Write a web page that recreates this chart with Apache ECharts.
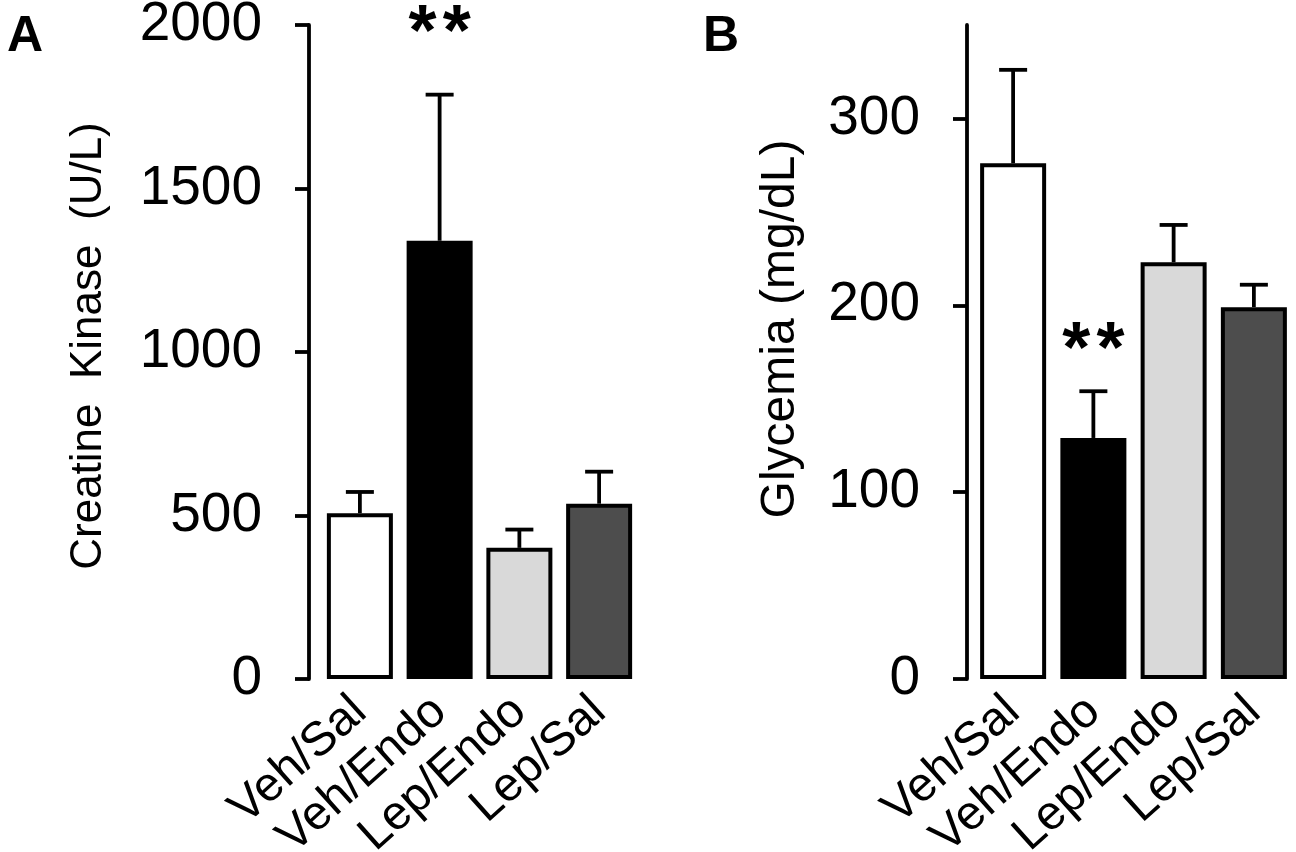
<!DOCTYPE html>
<html><head><meta charset="utf-8">
<script src="https://cdn.jsdelivr.net/npm/echarts@6/dist/echarts.min.js"></script>
<style>html,body{margin:0;padding:0;background:#fff}#c{width:1296px;height:852px}</style>
</head><body><div id="c"></div>
<script>
const categories = ['Veh/Sal', 'Veh/Endo', 'Lep/Endo', 'Lep/Sal'];
const ckMean = [507, 1340, 401, 536];
const ckErrTop = [572, 1787, 457, 634];
const glyMean = [276, 129, 223, 199];
const glyErrTop = [326, 154, 243, 211];
const barColors = ['#ffffff', '#000000', '#d9d9d9', '#4d4d4d'];
const ckTicks = [0, 500, 1000, 1500, 2000];
const glyTicks = [0, 100, 200, 300];
const ckSig = [[1, 1969]];
const glySig = [[1, 175]];
const FONT = 'Liberation Sans, Arial, sans-serif';

const chart = echarts.init(document.getElementById('c'), null, {renderer: 'canvas'});

function barData(vals) {
  return vals.map((v, i) => ({value: v, itemStyle: {color: barColors[i]}}));
}
function errData(mean, top) {
  return mean.map((m, i) => [i, m, top[i]]);
}
function errRender(params, api) {
  const x = api.value(0);
  const p0 = api.coord([x, api.value(1)]);
  const p1 = api.coord([x, api.value(2)]);
  const half = 14;
  const st = {stroke: '#000', lineWidth: 3.8};
  return {type: 'group', children: [
    {type: 'line', shape: {x1: p0[0], y1: p0[1], x2: p1[0], y2: p1[1]}, style: st},
    {type: 'line', shape: {x1: p1[0] - half, y1: p1[1], x2: p1[0] + half, y2: p1[1]}, style: st}
  ]};
}
function xAx(gi) {
  return {
    type: 'category', gridIndex: gi, data: categories,
    axisLine: {show: false}, axisTick: {show: false},
    axisLabel: {rotate: 42, fontSize: 48, color: '#000', fontFamily: FONT, margin: 26, interval: 0}
  };
}
function yAx(gi, max, ticks, name, nameGap, nameSize, offset, labelSize, namePad) {
  return {
    type: 'value', gridIndex: gi, min: 0, max: max, offset: offset,
    name: name, nameLocation: 'middle', nameGap: nameGap,
    nameTextStyle: {fontSize: nameSize, color: '#000', fontFamily: FONT, padding: [0, 0, 0, namePad]},
    axisLine: {show: true, lineStyle: {color: '#000', width: 3.8}},
    axisTick: {show: true, length: 14, lineStyle: {color: '#000', width: 3.8}, customValues: ticks},
    axisLabel: {fontSize: labelSize, color: '#000', fontFamily: FONT, margin: 47, customValues: ticks,
      formatter: v => String(v)},
    splitLine: {show: false}
  };
}
function sigSeries(xi, yi, data) {
  return {
    type: 'scatter', xAxisIndex: xi, yAxisIndex: yi, data: data, symbolSize: 0,
    itemStyle: {color: '#000', opacity: 1}, silent: true, clip: false,
    label: {show: true, position: 'inside', formatter: '*\u200A*', fontSize: 72, fontWeight: 'bold',
      color: '#000', opacity: 1, fontFamily: FONT, textBorderWidth: 0}
  };
}

chart.setOption({
  animation: false,
  backgroundColor: '#fff',
  grid: [
    {left: 320, width: 319, top: 25, height: 654, outerBoundsMode: 'none', containLabel: false},
    {left: 973, width: 321, top: 25, height: 654, outerBoundsMode: 'none', containLabel: false}
  ],
  xAxis: [xAx(0), xAx(1)],
  yAxis: [
    yAx(0, 2000, ckTicks, 'Creatine  Kinase  (U/L)', 198, 44, 11, 55, 12),
    yAx(1, 350, glyTicks, 'Glycemia (mg/dL)', 162, 48, 6, 55, 46)
  ],
  series: [
    {type: 'bar', xAxisIndex: 0, yAxisIndex: 0, data: barData(ckMean), barWidth: 66,
      itemStyle: {borderColor: '#000', borderWidth: 4}},
    {type: 'custom', xAxisIndex: 0, yAxisIndex: 0, data: errData(ckMean, ckErrTop), renderItem: errRender, z: 1},
    {type: 'bar', xAxisIndex: 1, yAxisIndex: 1, data: barData(glyMean), barWidth: 66,
      itemStyle: {borderColor: '#000', borderWidth: 4}},
    {type: 'custom', xAxisIndex: 1, yAxisIndex: 1, data: errData(glyMean, glyErrTop), renderItem: errRender, z: 1},
    sigSeries(0, 0, ckSig),
    sigSeries(1, 1, glySig)
  ],
  graphic: [
    {type: 'text', left: 7, top: 12, style: {text: 'A', fontSize: 50, fontWeight: 'bold', fill: '#000', fontFamily: FONT}},
    {type: 'text', left: 703, top: 12, style: {text: 'B', fontSize: 50, fontWeight: 'bold', fill: '#000', fontFamily: FONT}}
  ]
});
</script></body></html>
